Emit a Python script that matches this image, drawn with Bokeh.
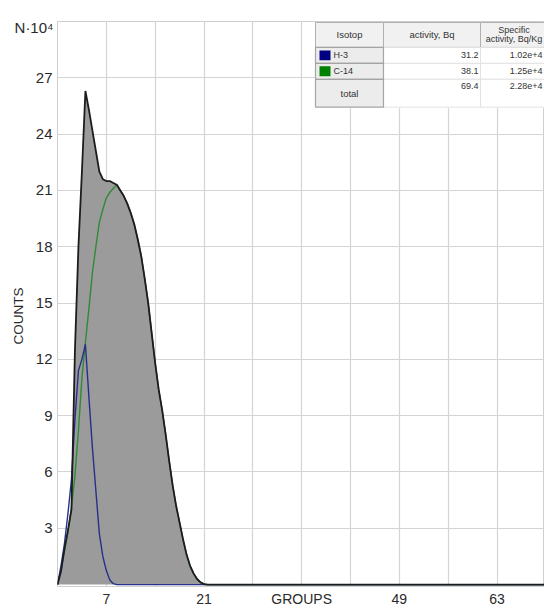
import math
from bokeh.plotting import figure
from bokeh.models import Range1d, FixedTicker, Label, Title
from bokeh.core.properties import value
from bokeh.embed import file_html
from bokeh.resources import INLINE

# ---------------- data ----------------
groups = [0, 0.5, 1, 1.5, 2, 2.5, 3, 3.5, 4, 4.5, 5, 5.5, 6, 6.5, 7, 7.5, 8, 8.5, 9,
          9.5, 10, 10.5, 11, 11.5, 12, 12.5, 13, 13.5, 14, 14.5, 15, 15.5, 16, 16.5,
          17, 17.5, 18, 18.5, 19, 19.5, 20, 20.5, 21, 21.5, 72]
total = [0.0, 0.7, 1.9, 2.9, 4.0, 12.5, 18.0, 22.0, 26.3, 25.3, 24.2, 23.1, 22.0, 21.6,
         21.5, 21.5, 21.4, 21.3, 21.0, 20.7, 20.3, 19.8, 19.2, 18.4, 17.5, 16.3, 15.0,
         13.4, 11.8, 10.4, 9.3, 8.0, 6.6, 5.3, 4.2, 3.3, 2.4, 1.6, 1.0, 0.6, 0.3, 0.12,
         0.03, 0.0, 0.0]
h3 = [0.0, 1.0, 2.2, 3.8, 5.6, 8.8, 11.4, 12.0, 12.8, 10.0, 7.3, 5.0, 2.7, 1.5, 0.75,
      0.25, 0.05, 0.0, 0.0, 0.0, 0.0, 0.0, 0.0, 0.0, 0.0, 0.0, 0.0, 0.0, 0.0, 0.0, 0.0,
      0.0, 0.0, 0.0, 0.0, 0.0, 0.0, 0.0, 0.0, 0.0, 0.0, 0.0, 0.0, 0.0, 0.0]
c14 = [0.0, 0.8, 1.8, 2.8, 4.1, 5.8, 8.2, 11.0, 12.9, 14.7, 16.6, 18.0, 19.3, 20.0,
       20.6, 20.9, 21.1, 21.3, 21.0, 20.7, 20.3, 19.8, 19.2, 18.4, 17.5, 16.3, 15.0,
       13.4, 11.8, 10.4, 9.3, 8.0, 6.6, 5.3, 4.2, 3.3, 2.4, 1.6, 1.0, 0.6, 0.3, 0.12,
       0.03, 0.0, 0.0]

x_ticks = [7, 21, 35, 49, 63]
x_tick_text = {35: "GROUPS"}
x_grid = [7, 14, 21, 28, 35, 42, 49, 56, 63]
y_ticks = [3, 6, 9, 12, 15, 18, 21, 24, 27]

isotopes = ["H-3", "C-14"]
isotope_colors = ["#000080", "#008000"]
activity = ["31.2", "38.1"]
specific = ["1.02e+4", "1.25e+4"]
total_activity = "69.4"
total_specific = "2.28e+4"

# ---------------- layout ----------------
W, H = 544, 609
BL, BR, BT, BB = 57, 0, 21, 21
FRAME_W = W - BL - BR
FRAME_H = H - BT - BB
X0, X1 = 0, 69.8
Y0, Y1 = -0.1, 30
XS = FRAME_W / (X1 - X0)
YS = FRAME_H / (Y1 - Y0)

FONT = "Liberation Sans"
TXT = "#2a2a2a"

p = figure(width=W, height=H, output_backend="svg", toolbar_location=None,
           x_range=Range1d(X0, X1), y_range=Range1d(Y0, Y1),
           min_border_left=BL, min_border_right=BR, min_border_top=BT, min_border_bottom=BB)
p.title.visible = False
p.background_fill_color = "white"
p.border_fill_color = "white"
p.outline_line_color = "#cfcfcf"
p.outline_line_width = 1

p.xgrid.ticker = FixedTicker(ticks=x_grid)
p.ygrid.ticker = FixedTicker(ticks=y_ticks)
for g in (p.xgrid, p.ygrid):
    g.grid_line_color = "#d4d4d4"
    g.grid_line_width = 1.2

p.xaxis.ticker = FixedTicker(ticks=x_ticks)
p.xaxis.major_label_overrides = x_tick_text
p.yaxis.ticker = FixedTicker(ticks=y_ticks)
for ax in (p.xaxis, p.yaxis):
    ax.axis_line_color = None
    ax.major_tick_line_color = None
    ax.minor_tick_line_color = None
    ax.major_tick_out = 0
    ax.major_tick_in = 0
    ax.major_label_text_font = FONT
    ax.major_label_text_color = TXT
p.xaxis.major_label_text_font_size = "14px"
p.yaxis.major_label_text_font_size = "15px"
p.xaxis.major_label_standoff = 4
p.yaxis.major_label_standoff = 5

# ---------------- curves ----------------
p.varea(x=groups, y1=[0] * len(groups), y2=total, fill_color="#9b9b9b")
p.line(groups, c14, line_color="#2f8a35", line_width=1.4)
p.line(groups, h3, line_color="#26308a", line_width=1.4)
p.line(groups, total, line_color="#1c1c1c", line_width=1.8)

# ---------------- table (pixel offsets relative to frame top-left) ----------------
def tx(px):
    return X0 + px / XS

def ty(py):
    return Y1 - py / YS

TL, C2, C3, TR = 258.0, 326.0, 423.0, 510.0
R0, R1, R2, R3, R4 = 1.0, 26.0, 42.0, 58.0, 86.0

p.quad(left=[tx(TL)], right=[tx(TR)], top=[ty(R0)], bottom=[ty(R4 + 1)],
       fill_color="white", line_color=None)
p.quad(left=[tx(TL), tx(C2), tx(C3)], right=[tx(C2), tx(C3), tx(TR)],
       top=[ty(R0)] * 3, bottom=[ty(R1)] * 3,
       fill_color="#f1f1f1", line_color="#b0b0b0", line_width=1)
p.quad(left=[tx(C2), tx(C3)] * 3, right=[tx(C3), tx(TR)] * 3,
       top=[ty(R1), ty(R1), ty(R2), ty(R2), ty(R3), ty(R3)],
       bottom=[ty(R2), ty(R2), ty(R3), ty(R3), ty(R4), ty(R4)],
       fill_color="white", line_color="#e2e2e2", line_width=1)
p.quad(left=[tx(TL)] * 3, right=[tx(C2)] * 3,
       top=[ty(R1), ty(R2), ty(R3)], bottom=[ty(R2), ty(R3), ty(R4)],
       fill_color="#ececec", line_color="#a4a4a4", line_width=1.2)
p.quad(left=[tx(262)] * 2, right=[tx(273)] * 2,
       top=[ty(R1 + 3), ty(R2 + 3)], bottom=[ty(R2 - 3), ty(R3 - 3)],
       fill_color=isotope_colors, line_color=None)

txt_style = dict(text_font=value(FONT), text_color="#333333", text_baseline="middle")
row_mid = [(R1 + R2) / 2, (R2 + R3) / 2]
p.text(x=[tx((TL + C2) / 2), tx((C2 + C3) / 2)], y=[ty(13.5), ty(13.5)],
       text=["Isotop", "activity, Bq"], text_align="center",
       text_font_size="9.5px", **txt_style)
p.text(x=[tx(456.5), tx(456.5)], y=[ty(9), ty(18)],
       text=["Specific", "activity, Bq/Kg"], text_align="center",
       text_font_size="9px", **txt_style)
p.text(x=[tx(276)] * 2, y=[ty(m) for m in row_mid], text=isotopes,
       text_align="left", text_font_size="9px", **txt_style)
p.text(x=[tx((TL + C2) / 2)], y=[ty((R3 + R4) / 2)], text=["total"],
       text_align="center", text_font_size="9.5px", **txt_style)
p.text(x=[tx(421)] * 3, y=[ty(m) for m in row_mid] + [ty(R3 + 7)],
       text=activity + [total_activity], text_align="right",
       text_font_size="9px", **txt_style)
p.text(x=[tx(485)] * 3, y=[ty(m) for m in row_mid] + [ty(R3 + 7)],
       text=specific + [total_specific], text_align="right",
       text_font_size="9px", **txt_style)

# ---------------- axis titles (side panels are not clipped) ----------------
p.add_layout(Label(x=-4, y=-6, x_units="screen", y_units="screen",
                   text="N·10⁴", text_align="right", text_baseline="alphabetic",
                   text_font=FONT, text_font_size="15px", text_color=TXT), "above")
p.add_layout(Title(text="COUNTS", align="left", offset=242, standoff=11,
                   vertical_align="middle", text_font=FONT, text_font_size="13.5px",
                   text_font_style="normal", text_color=TXT), "left")

open("out.html", "w").write(file_html(p, INLINE))
